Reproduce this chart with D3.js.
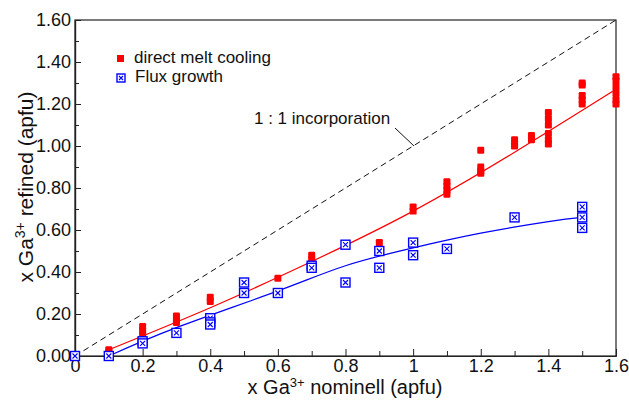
<!DOCTYPE html>
<html>
<head>
<meta charset="utf-8">
<script src="https://cdn.jsdelivr.net/npm/d3@7"></script>
<style>
  body { margin: 0; background: #fff; }
  svg { font-family: "Liberation Sans", Arial, Helvetica, sans-serif; }
</style>
</head>
<body>
<div id="chart-area"></div>
<script>
// data
const meltX = [0.1, 0.1, 0.2, 0.2, 0.2, 0.3, 0.3, 0.3, 0.4, 0.4, 0.6, 0.7, 0.7, 0.8, 0.9,
  1.0, 1.0, 1.1, 1.1, 1.1, 1.1, 1.2, 1.2, 1.2, 1.2, 1.3, 1.3, 1.3, 1.35, 1.35,
  1.4, 1.4, 1.4, 1.4, 1.4, 1.4, 1.5, 1.5, 1.5, 1.5, 1.5, 1.6, 1.6, 1.6, 1.6, 1.6, 1.6];
const meltY = [0.03, 0.02, 0.14, 0.12, 0.10, 0.19, 0.17, 0.16, 0.28, 0.26, 0.37, 0.48, 0.46, 0.535, 0.54,
  0.71, 0.69, 0.83, 0.81, 0.79, 0.77, 0.98, 0.90, 0.88, 0.87, 1.03, 1.01, 1.00, 1.05, 1.03,
  1.16, 1.13, 1.10, 1.06, 1.03, 1.01, 1.30, 1.29, 1.24, 1.22, 1.20, 1.33, 1.31, 1.28, 1.25, 1.22, 1.20];

const fluxX = [0, 0.1, 0.2, 0.2, 0.3, 0.4, 0.4, 0.4, 0.5, 0.5, 0.6, 0.7, 0.7, 0.8, 0.8,
  0.9, 0.9, 1.0, 1.0, 1.1, 1.3, 1.5, 1.5, 1.5];
const fluxY = [0.00, 0.00, 0.07, 0.06, 0.11, 0.18, 0.16, 0.15, 0.35, 0.30, 0.30, 0.43, 0.42, 0.53, 0.35,
  0.50, 0.42, 0.54, 0.48, 0.51, 0.66, 0.71, 0.66, 0.61];

// fitted curves, sampled from the figure
const meltFitX = [0.1, 0.4, 0.7, 1.0, 1.3, 1.6];
const meltFitY = [0.03, 0.23, 0.45, 0.69, 0.97, 1.27];
const fluxFitX = [0.1, 0.3, 0.6, 0.8, 1.0, 1.2, 1.4, 1.5];
const fluxFitY = [0.00, 0.135, 0.31, 0.43, 0.515, 0.585, 0.64, 0.66];

const xTicks = [0, 0.2, 0.4, 0.6, 0.8, 1, 1.2, 1.4, 1.6];
const xMinor = [0.1, 0.3, 0.5, 0.7, 0.9, 1.1, 1.3, 1.5];
const yTicks = [0, 0.2, 0.4, 0.6, 0.8, 1.0, 1.2, 1.4, 1.6];
const yMinor = [0.1, 0.3, 0.5, 0.7, 0.9, 1.1, 1.3, 1.5];

const W = 629, H = 400;
const margin = { left: 75, right: 13, top: 20, bottom: 44 };
const width = W - margin.left - margin.right;
const height = H - margin.top - margin.bottom;

const svg = d3.select('#chart-area').append('svg')
  .attr('width', W)
  .attr('height', H);

const g = svg.append('g')
  .attr('transform', `translate(${margin.left}, ${margin.top})`);

const x = d3.scaleLinear().domain([0, 1.6]).range([0, width]);
const y = d3.scaleLinear().domain([0, 1.6]).range([height, 0]);

// frame
g.append('rect')
  .attr('width', width)
  .attr('height', height)
  .attr('fill', 'none')
  .attr('stroke', '#222')
  .attr('stroke-width', 1.2);

// x axis (ticks inward)
g.append('g')
  .attr('transform', `translate(0, ${height})`)
  .call(d3.axisBottom(x).tickValues(xTicks).tickSizeInner(-7).tickSizeOuter(0)
    .tickPadding(3).tickFormat(d => d3.format('')(+d.toFixed(1))));
g.append('g')
  .attr('transform', `translate(0, ${height})`)
  .call(d3.axisBottom(x).tickValues(xMinor).tickSizeInner(-5).tickSizeOuter(0).tickFormat(''));

// y axis
g.append('g')
  .call(d3.axisLeft(y).tickValues(yTicks).tickSizeInner(-6).tickSizeOuter(0)
    .tickPadding(4).tickFormat(d3.format('.2f')));
g.append('g')
  .call(d3.axisLeft(y).tickValues(yMinor).tickSizeInner(-4).tickSizeOuter(0).tickFormat(''));

g.selectAll('.domain').attr('stroke', '#222').attr('stroke-width', 1.2);
g.selectAll('.tick line').attr('stroke', '#222');
g.selectAll('.tick text').attr('font-size', '18px').attr('fill', '#111')
  .attr('font-family', '"Liberation Sans", Arial, sans-serif');

// 1:1 line
g.append('line')
  .attr('x1', x(0)).attr('y1', y(0))
  .attr('x2', x(1.6)).attr('y2', y(1.6))
  .attr('stroke', '#111')
  .attr('stroke-width', 1)
  .attr('stroke-dasharray', '6,4');

// fit curves
const line = d3.line().curve(d3.curveNatural);
g.append('path')
  .attr('d', line(meltFitX.map((d, i) => [x(d), y(meltFitY[i])])))
  .attr('fill', 'none')
  .attr('stroke', '#f00')
  .attr('stroke-width', 1.2);
g.append('path')
  .attr('d', line(fluxFitX.map((d, i) => [x(d), y(fluxFitY[i])])))
  .attr('fill', 'none')
  .attr('stroke', '#00f')
  .attr('stroke-width', 1.2);

// red filled markers
g.selectAll('.melt')
  .data(meltX.map((d, i) => [d, meltY[i]]))
  .enter().append('rect')
    .attr('class', 'melt')
    .attr('x', d => x(d[0]) - 3.5)
    .attr('y', d => y(d[1]) - 3.5)
    .attr('width', 7)
    .attr('height', 7)
    .attr('rx', 1.2)
    .attr('fill', '#f00');

// blue boxed-cross markers
function boxX(sel, s) {
  sel.append('rect')
    .attr('x', -s / 2).attr('y', -s / 2)
    .attr('width', s).attr('height', s)
    .attr('fill', '#fff')
    .attr('stroke', '#00f')
    .attr('stroke-width', 1.4);
  sel.append('path')
    .attr('d', `M${-s / 2 + 2},${-s / 2 + 2}L${s / 2 - 2},${s / 2 - 2}M${s / 2 - 2},${-s / 2 + 2}L${-s / 2 + 2},${s / 2 - 2}`)
    .attr('stroke', '#00f')
    .attr('stroke-width', 1.1);
}

g.selectAll('.flux')
  .data(fluxX.map((d, i) => [d, fluxY[i]]))
  .enter().append('g')
    .attr('class', 'flux')
    .attr('transform', d => `translate(${x(d[0])}, ${y(d[1])})`)
    .call(s => boxX(s, 9));

// annotation
svg.append('text')
  .attr('x', 254)
  .attr('y', 124)
  .attr('font-size', '17px')
  .attr('fill', '#111')
  .text('1 : 1 incorporation');
svg.append('line')
  .attr('x1', 395).attr('y1', 128)
  .attr('x2', 414).attr('y2', 146)
  .attr('stroke', '#111')
  .attr('stroke-width', 1);

// legend
svg.append('rect')
  .attr('x', 117).attr('y', 55)
  .attr('width', 7).attr('height', 7)
  .attr('fill', '#f00');
svg.append('text')
  .attr('x', 134).attr('y', 63)
  .attr('font-size', '17px')
  .attr('fill', '#111')
  .text('direct melt cooling');
svg.append('g')
  .attr('transform', 'translate(121, 78)')
  .call(s => boxX(s, 8));
svg.append('text')
  .attr('x', 135).attr('y', 82)
  .attr('font-size', '17px')
  .attr('fill', '#111')
  .text('Flux growth');

// axis titles
const xt = svg.append('text')
  .attr('x', 345)
  .attr('y', 394)
  .attr('text-anchor', 'middle')
  .attr('font-size', '20px')
  .attr('fill', '#111');
xt.append('tspan').text('x Ga');
xt.append('tspan').attr('font-size', '13px').attr('dy', -7).text('3+');
xt.append('tspan').attr('dy', 7).text(' nominell (apfu)');

const yt = svg.append('text')
  .attr('transform', 'translate(33, 187) rotate(-90)')
  .attr('text-anchor', 'middle')
  .attr('font-size', '21px')
  .attr('fill', '#111');
yt.append('tspan').text('x Ga');
yt.append('tspan').attr('font-size', '14px').attr('dy', -8).text('3+');
yt.append('tspan').attr('dy', 8).text(' refined (apfu)');
</script>
</body>
</html>
